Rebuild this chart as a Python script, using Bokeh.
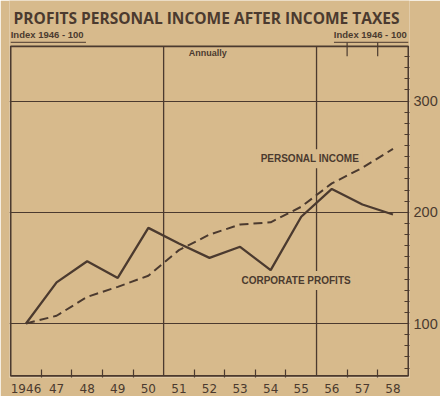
from bokeh.plotting import figure
from bokeh.models import FixedTicker, Label
from bokeh.embed import file_html
from bokeh.resources import INLINE

years = [1946, 1947, 1948, 1949, 1950, 1951, 1952, 1953, 1954, 1955, 1956, 1957, 1958]
year_labels = ["1946", "47", "48", "49", "50", "51", "52", "53", "54", "55", "56", "57", "58"]
corporate_profits = [100, 137, 156, 141, 186, 172, 159, 169, 148, 196, 221, 207, 198]
personal_income = [100, 107, 124, 133, 143, 166, 180, 189, 191, 205, 226, 240, 257]
y_ticks = [100, 200, 300]
period_breaks = [1950.5, 1955.5]
top_ticks = [1956.5, 1957.5]

X0, X1 = 1945.5, 1958.5      # chart box, years
Y0, Y1 = 53.0, 349.2         # chart box, index values
Y_TOP = 390.4                # room above the box for the headings

BG = "#d7ba8c"
INK = "#4b3a2f"

p = figure(width=440, height=396, output_backend="svg", toolbar_location=None,
           x_range=(X0 - 0.04, X1 + 0.04), y_range=(Y0 - 1.5, Y_TOP),
           y_axis_location="right",
           min_border_left=9, min_border_right=27, min_border_top=0, min_border_bottom=19)
p.background_fill_color = BG
p.border_fill_color = BG
p.outline_line_color = None

# chart box
p.quad(left=[X0], right=[X1], bottom=[Y0], top=[Y1], fill_color=None,
       line_color=INK, line_width=1.6)

# bottom axis: labels at year centres, ticks at year boundaries
boundaries = [y + 0.5 for y in years[:-1] if y + 0.5 not in period_breaks]
xa = p.xaxis[0]
xa.ticker = FixedTicker(ticks=years, minor_ticks=boundaries)
xa.major_label_overrides = {y: l for y, l in zip(years, year_labels)}
xa.major_tick_in = 0
xa.major_tick_out = 0
xa.minor_tick_in = 8
xa.minor_tick_out = 0
xa.minor_tick_line_color = INK
xa.minor_tick_line_width = 1.2
xa.axis_line_color = None
xa.major_label_standoff = 6
xa.major_label_text_font = "DejaVu Sans"
xa.major_label_text_font_size = "12px"
xa.major_label_text_color = INK

# right axis
ya = p.yaxis[0]
ya.ticker = FixedTicker(ticks=y_ticks, minor_ticks=[v for v in range(60, 350, 10) if v not in y_ticks])
ya.major_tick_in = 0
ya.major_tick_out = 0
ya.minor_tick_in = 5
ya.minor_tick_out = 0
ya.minor_tick_line_color = INK
ya.minor_tick_line_width = 1.2
ya.axis_line_color = None
ya.major_label_standoff = 4
ya.major_label_text_font = "Liberation Sans"
ya.major_label_text_font_size = "14.5px"
ya.major_label_text_color = INK

# grid: index lines and period breaks
p.ygrid.ticker = FixedTicker(ticks=y_ticks)
p.ygrid.grid_line_color = INK
p.ygrid.grid_line_width = 1.1
p.xgrid.visible = False
p.segment(x0=period_breaks, x1=period_breaks, y0=[Y0] * 2, y1=[Y1] * 2,
          line_color=INK, line_width=1.3)
# ticks hanging from the top of the box and the underlines of the index notes
p.segment(x0=top_ticks, x1=top_ticks, y0=[Y1 + 3.5] * 2, y1=[Y1 - 9] * 2,
          line_color=INK, line_width=1.2)
p.segment(x0=[X0, 1956.07], x1=[1947.96, X1], y0=[Y1 + 3.5] * 2, y1=[Y1 + 3.5] * 2,
          line_color=INK, line_width=1.2, line_alpha=0.8)

p.line(years, personal_income, line_color=INK, line_width=2, line_dash="9 5")
p.line(years, corporate_profits, line_color=INK, line_width=2.3)

lab = dict(text_color=INK, text_font="Liberation Sans", text_font_style="bold",
           text_baseline="middle")
p.add_layout(Label(x=1951.97, y=374.7, text="PROFITS  PERSONAL INCOME AFTER INCOME TAXES",
                   text_align="center", text_baseline="middle", text_font_size="15.5px",
                   text_color=INK, text_font="Open Sans", text_font_style="bold"))
p.add_layout(Label(x=X0, y=359.7, text="Index 1946 - 100", text_align="left",
                   text_font_size="9.5px", **lab))
p.add_layout(Label(x=1958.45, y=359.7, text="Index 1946 - 100", text_align="right",
                   text_font_size="9.5px", **lab))
p.add_layout(Label(x=1951.94, y=343.0, text="Annually", text_align="center",
                   text_font_size="9px", **lab))
p.add_layout(Label(x=1955.28, y=248.2, text="PERSONAL INCOME", text_align="center",
                   text_font_size="10px", background_fill_color=BG, padding=4, **lab))
p.add_layout(Label(x=1954.83, y=138.6, text="CORPORATE PROFITS", text_align="center",
                   text_font_size="10px", background_fill_color=BG, padding=4, **lab))

open("out.html", "w").write(file_html(p, INLINE))
